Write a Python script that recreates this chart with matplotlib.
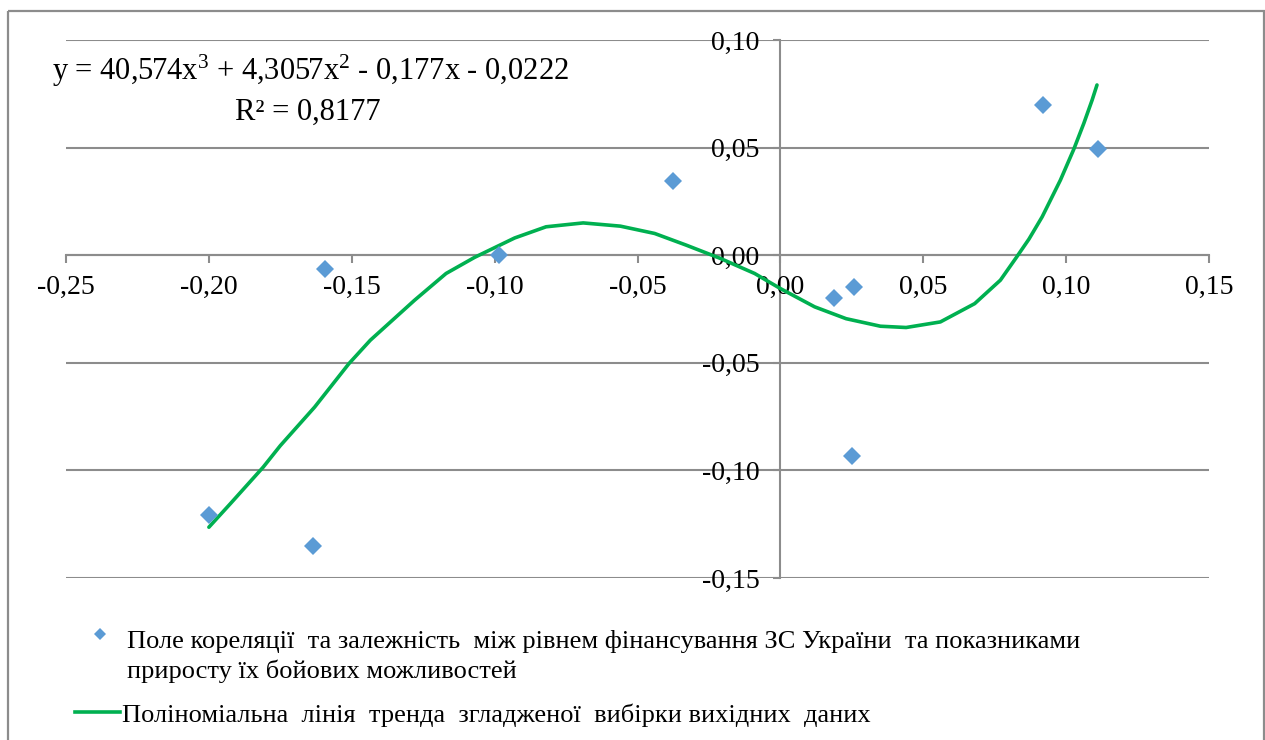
import matplotlib
matplotlib.use("Agg")
import matplotlib.pyplot as plt
from matplotlib.patches import Rectangle
from matplotlib.ticker import FixedLocator, FixedFormatter

plt.rcParams['font.family'] = ['Liberation Serif', 'DejaVu Serif']
plt.rcParams['mathtext.fontset'] = 'custom'
plt.rcParams['mathtext.rm'] = 'Liberation Serif'
plt.rcParams['mathtext.it'] = 'Liberation Serif'
plt.rcParams['mathtext.bf'] = 'Liberation Serif:bold'

# Correlation field: funding level vs. growth of combat capabilities
obs_x = [-0.2000, -0.1635, -0.1595, -0.0986, -0.0377, 0.0189, 0.0257, 0.0251, 0.0920, 0.1110]
obs_y = [-0.1205, -0.1349, -0.0062, 0.0000, 0.0346, -0.0199, -0.0147, -0.0933, 0.0698, 0.0493]

# Polynomial trend of the smoothed sample
trend_x = [-0.2000, -0.1925, -0.1810, -0.1750, -0.1630, -0.1510, -0.1435, -0.1280,
           -0.1170, -0.1070, -0.0930, -0.0820, -0.0690, -0.0560, -0.0440, -0.0330,
           -0.0210, -0.0090, 0.0000, 0.0120, 0.0230, 0.0350, 0.0440, 0.0560,
           0.0680, 0.0770, 0.0825, 0.0870, 0.0916, 0.0980, 0.1027, 0.1062,
           0.1091, 0.1108]
trend_y = [-0.1264, -0.1155, -0.0985, -0.0885, -0.0706, -0.0504, -0.0395, -0.0209,
           -0.0085, -0.0010, 0.0080, 0.0132, 0.0150, 0.0135, 0.0101, 0.0047,
           -0.0015, -0.0085, -0.0155, -0.0240, -0.0295, -0.0330, -0.0336, -0.0310,
           -0.0225, -0.0116, -0.0012, 0.0075, 0.0178, 0.0349, 0.0493, 0.0613,
           0.0721, 0.0791]

x_ticks = [-0.25, -0.20, -0.15, -0.10, -0.05, 0.00, 0.05, 0.10, 0.15]
x_tick_labels = ["-0,25", "-0,20", "-0,15", "-0,10", "-0,05", "0,00", "0,05", "0,10", "0,15"]
y_ticks = [-0.15, -0.10, -0.05, 0.00, 0.05, 0.10]
y_tick_labels = ["-0,15", "-0,10", "-0,05", "0,00", "0,05", "0,10"]

equation_line = r"y = 40,574x$^{3}$ + 4,3057x$^{2}$ - 0,177x - 0,0222"
r2_line = "R² = 0,8177"
scatter_label_1 = "Поле кореляції  та залежність  між рівнем фінансування ЗС України  та показниками"
scatter_label_2 = "приросту їх бойових можливостей"
trend_label = "Поліноміальна  лінія  тренда  згладженої  вибірки вихідних  даних"

W, H = 1265, 740
fig = plt.figure(figsize=(W / 100, H / 100), dpi=100)

grid_col = '#8c8c8c'
green = '#00b050'
blue = '#5b9bd5'

ax = fig.add_axes([66 / W, 1 - 578 / H, (1209 - 66) / W, (578 - 40) / H])
ax.set_xlim(-0.25, 0.15)
ax.set_ylim(-0.15, 0.10)

for yv in y_ticks:
    ax.axhline(yv, color=grid_col, lw=1.5, zorder=1)

for side in ('top', 'right'):
    ax.spines[side].set_visible(False)
ax.spines['left'].set_position(('data', 0))
ax.spines['bottom'].set_position(('data', 0))
for side in ('left', 'bottom'):
    ax.spines[side].set_color(grid_col)
    ax.spines[side].set_linewidth(1.5)
    ax.spines[side].set_zorder(1)

ax.xaxis.set_major_locator(FixedLocator(x_ticks))
ax.xaxis.set_major_formatter(FixedFormatter(x_tick_labels))
ax.yaxis.set_major_locator(FixedLocator(y_ticks))
ax.yaxis.set_major_formatter(FixedFormatter(y_tick_labels))
ax.tick_params(axis='x', direction='out', length=6, width=1.5, color=grid_col,
               labelsize=20, pad=8.5)
ax.tick_params(axis='y', direction='out', length=5, width=1.5, color=grid_col,
               labelsize=20, pad=10)
ax.patch.set_visible(False)

ax.plot(trend_x, trend_y, color=green, lw=2.6, zorder=3,
        solid_capstyle='round', solid_joinstyle='round')
ax.plot(obs_x, obs_y, linestyle='none', marker='D', ms=9.5, color=blue,
        markeredgewidth=0, zorder=4)

# Overlay in pixel coordinates for the equation and the legend
ov = fig.add_axes([0, 0, 1, 1])
ov.set_xlim(0, W)
ov.set_ylim(H, 0)
ov.axis('off')

ov.add_patch(Rectangle((7.5, 11), 1256, 740, fill=False, edgecolor=grid_col, lw=1.6))

ov.text(310, 80, equation_line, fontsize=22, ha='center', va='baseline')
ov.text(308, 120, r2_line, fontsize=22, ha='center', va='baseline')

ov.plot([100], [634], linestyle='none', marker='D', ms=6.5, color=blue, markeredgewidth=0)
ov.plot([75, 120], [712, 712], color=green, lw=2.6)
ov.text(127, 648, scatter_label_1, fontsize=19, ha='left', va='baseline')
ov.text(127, 678, scatter_label_2, fontsize=19, ha='left', va='baseline')
ov.text(122, 722, trend_label, fontsize=19, ha='left', va='baseline')

fig.savefig('out.png', dpi=100)
